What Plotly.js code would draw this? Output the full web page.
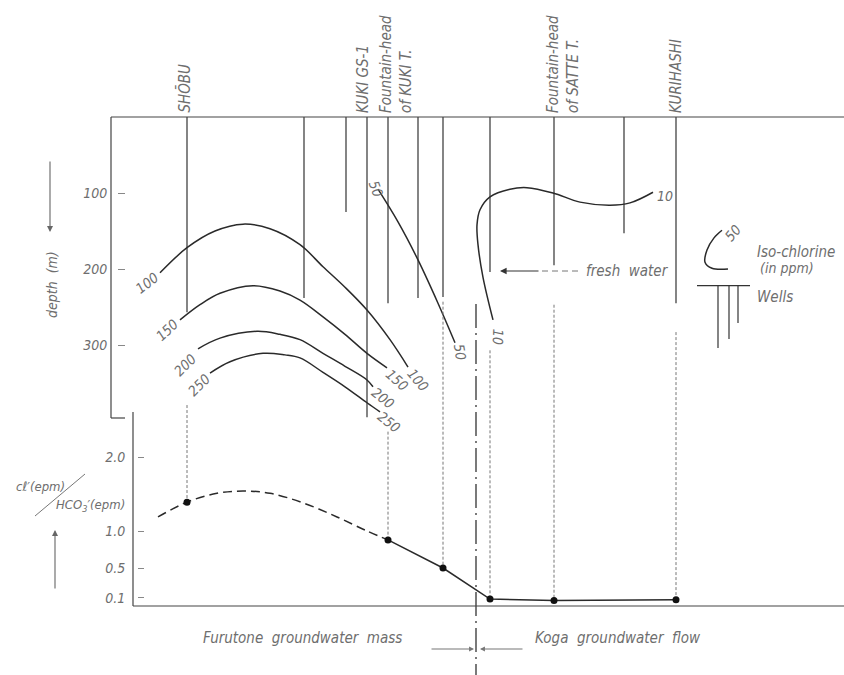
<!DOCTYPE html>
<html><head><meta charset="utf-8">
<script src="https://cdn.plot.ly/plotly-3.0.1.min.js"></script>
<style>html,body{margin:0;padding:0;background:#fff}</style>
</head><body><div id="chart" style="width:844px;height:675px"></div>
<script>
// ---------- DATA ----------
// horizontal position of wells along the section (arbitrary distance units)
const wellX      = [187, 304, 346, 367, 388, 418, 443, 490, 554, 624, 676];
// bottom depth of each well (m)
const wellBottom = [257, 238, 125, 395, 245, 238, 237, 204, 195, 153, 245];

// station labels
const stationNames = ["SHŌBU", "KUKI GS-1", "Fountain-head<br>of KUKI T.", "Fountain-head<br>of SATTE T.", "KURIHASHI"];
const stationX     = [184, 363, 396, 563, 676];

// iso-chlorine lines (ppm): x position, depth (m)
const iso100x = [160, 187, 215, 243, 270, 300, 323, 345, 367, 390, 408];
const iso100d = [205, 172, 150, 141, 147, 168, 197, 224, 254, 293, 329];
const iso150x = [180, 200, 220, 253, 280, 300, 323, 345, 367, 387];
const iso150d = [267, 247, 232, 222, 229, 241, 263, 286, 311, 330];
const iso200x = [198, 220, 257, 280, 300, 323, 345, 367, 373];
const iso200d = [305, 291, 282, 286, 293, 311, 328, 346, 355];
const iso250x = [210, 230, 263, 285, 300, 323, 345, 367, 380];
const iso250d = [337, 322, 311, 313, 317, 336, 355, 376, 388];
const iso50x  = [378, 398, 418, 438, 455];
const iso50d  = [95, 138, 188, 245, 297];
const iso10x  = [493, 483, 478, 477, 480, 490, 510, 527, 553, 580, 610, 630, 653];
const iso10d  = [267, 211, 168, 142, 122, 105, 95, 93, 100, 112, 116, 113, 99];

// Cl'/HCO3' ratio (epm/epm) at sampled wells
const ratioX = [187, 388, 443, 490, 554, 676];
const ratioV = [1.39, 0.88, 0.50, 0.08, 0.06, 0.07];
const ratioProjFromDepth = [379, 414, 243, 307, 247, 283];
// inferred (dashed) trend of the ratio
const trendX = [158, 187, 217, 243, 270, 303, 337, 367, 388];
const trendV = [1.19, 1.39, 1.51, 1.54, 1.51, 1.38, 1.19, 1.00, 0.88];

// boundary between Furutone groundwater mass and Koga groundwater flow
const boundaryX = 476;
const boundaryFromDepth = 246;

// legend glyphs
const legIsoX = [728, 712, 705, 707, 714, 722];
const legIsoD = [200, 199, 191, 175, 159, 149];
const legWellX = [718, 729, 738];
const legWellBottom = [304, 292, 271];
const legWellTopD = 222;
const legWellBarX = [697, 750];

const depthTicks = [100, 200, 300];
const ratioTicks = [0.1, 0.5, 1.0, 2.0];
const ratioTickText = ["0.1", "0.5", "1.0", "2.0"];

// ---------- GEOMETRY ----------
const W = 844, H = 675;
const topPix = 117;                    // pixel of depth 0
const depthMax = (H - topPix) / 0.76;  // depth at page bottom
const ratioMin = -(H - 605) / 74, ratioMax = (605 - topPix) / 74;
const py = p => 1 - p / H;             // page pixel -> paper
function depthToRatio(d) { return ratioMax - (d / depthMax) * (ratioMax - ratioMin); }

const INK = '#2a2a2a', TXT = '#6e6e6e';
const FONT = "DejaVu Sans Condensed, DejaVu Sans, sans-serif";

const traces = [];
// wells
(function(){
  const x = [], y = [];
  wellX.forEach((w, i) => { x.push(w, w, null); y.push(0, wellBottom[i], null); });
  traces.push({x, y, mode:'lines', line:{color:'#333', width:1.2}, hoverinfo:'skip'});
})();
// iso lines
[[iso100x, iso100d], [iso150x, iso150d], [iso200x, iso200d], [iso250x, iso250d], [iso50x, iso50d], [iso10x, iso10d]]
  .forEach(([x, y]) => traces.push({x, y, mode:'lines', line:{color:INK, width:1.5, shape:'spline', smoothing:1}, hoverinfo:'skip'}));
// legend glyphs
traces.push({x: legIsoX, y: legIsoD, mode:'lines', line:{color:INK, width:1.5, shape:'spline', smoothing:1}, hoverinfo:'skip'});
(function(){
  const x = [legWellBarX[0], legWellBarX[1], null], y = [legWellTopD, legWellTopD, null];
  legWellX.forEach((w, i) => { x.push(w, w, null); y.push(legWellTopD, legWellBottom[i], null); });
  traces.push({x, y, mode:'lines', line:{color:'#333', width:1.2}, hoverinfo:'skip'});
})();
// boundary dash-dot
traces.push({x:[boundaryX, boundaryX], y:[boundaryFromDepth, depthMax], mode:'lines',
  line:{color:'#333', width:1.3, dash:'24px,5px,2px,5px'}, hoverinfo:'skip'});
// projections to ratio points (dashed)
(function(){
  const x = [], y = [];
  ratioX.forEach((r, i) => { x.push(r, r, null); y.push(depthToRatio(ratioProjFromDepth[i]), ratioV[i], null); });
  traces.push({x, y, yaxis:'y2', mode:'lines', line:{color:'#777', width:1, dash:'3px,2px'}, hoverinfo:'skip'});
})();
// trend dashed
traces.push({x: trendX, y: trendV, yaxis:'y2', mode:'lines', line:{color:INK, width:1.5, dash:'9px,5px', shape:'spline', smoothing:1}, hoverinfo:'skip'});
// measured ratio
traces.push({x: ratioX.slice(1), y: ratioV.slice(1), yaxis:'y2', mode:'lines', line:{color:INK, width:1.5}, hoverinfo:'skip'});
traces.push({x: ratioX, y: ratioV, yaxis:'y2', mode:'markers', marker:{color:'#111', size:7}, hoverinfo:'skip'});

// ---------- ANNOTATIONS ----------
function T(text, x, yp, o) {
  o = o || {};
  return Object.assign({text, x, y: py(yp), xref:'x', yref:'paper', showarrow:false,
    font:{family:FONT, size:o.size || 14, color:TXT, style:'italic'}}, o.extra || {}, o.angle !== undefined ? {textangle:o.angle} : {});
}
const ann = [];
// curve labels
ann.push(T('100', 147, 283, {angle:-38}));
ann.push(T('150', 167, 330, {angle:-43}));
ann.push(T('200', 185, 365, {angle:-45}));
ann.push(T('250', 199, 385, {angle:-45}));
ann.push(T('100', 418, 380, {angle:50}));
ann.push(T('150', 397, 380, {angle:42}));
ann.push(T('200', 383, 398, {angle:38}));
ann.push(T('250', 389, 422, {angle:38}));
ann.push(T('50', 376, 176, {angle:70}));
ann.push(T('50', 460, 352, {angle:80}));
ann.push(T('10', 498, 337, {angle:92}));
ann.push(T('10', 665, 186, {}));
ann.push(T('50', 733, 219, {angle:-50}));
// legend text
ann.push(T('Iso-chlorine', 796, 252, {size:15}));
ann.push(T('(in ppm)', 787, 268, {size:14}));
ann.push(T('Wells', 775, 297, {size:15}));
ann.push(T('fresh  water', 627, 271, {size:15}));
// station labels
stationNames.forEach((s, i) => ann.push(T(s, stationX[i], 115, {angle:-90, size:15, extra:{yanchor:'bottom', align:'left'}})));
// axis titles
ann.push(T('depth  (m)', 52, 285, {angle:-90, size:14}));
ann.push(T("cℓ′(epm)", 40, 496, {size:13}));
ann.push(T("HCO<sub>3</sub>′(epm)", 90, 516, {size:13}));
// bottom captions
ann.push(T('Furutone  groundwater  mass', 302, 649, {size:15}));
ann.push(T('Koga  groundwater  flow', 618, 649, {size:15}));
// arrows
function A(x, yp, ax, ay, color, size) {
  return {x, y: py(yp), xref:'x', yref:'paper', text:'', showarrow:true, ax, ay,
    arrowhead:2, arrowsize:size || 1.1, arrowwidth:1.1, arrowcolor:color || '#666'};
}
ann.push(A(50, 232, 0, -72));
ann.push(A(55, 530, 0, 60));
ann.push(A(500, 271, 40, 0, '#333', 1.2));
ann.push(A(474, 649, -44, 0, '#777', 0.9));
ann.push(A(480, 649, 44, 0, '#777', 0.9));

// ---------- FRAME SHAPES ----------
function L(x0, y0, x1, y1, o) {
  return Object.assign({type:'line', xref:'x', yref:'paper', x0, x1, y0: py(y0), y1: py(y1),
    line:{color:'#444', width:1.2}}, o || {});
}
const shapes = [
  L(111, 117, 844, 117),
  L(111, 117, 111, 418),
  L(111, 418, 125, 418),
  L(133, 412, 133, 606),
  L(133, 606, 844, 606),
  L(35, 516, 85, 474, {line:{color:'#777', width:1}}),
  L(542, 271, 582, 271, {line:{color:'#777', width:1, dash:'6px,4px'}})
];

const layout = {
  width: W, height: H, margin:{l:0, r:0, t:0, b:0},
  paper_bgcolor:'#fff', plot_bgcolor:'rgba(0,0,0,0)', showlegend:false,
  xaxis:{range:[0, W], domain:[0, 1], visible:false},
  yaxis:{domain:[0, py(topPix)], range:[depthMax, 0], anchor:'free', position:125 / W,
    ticks:'outside', ticklen:7, tickwidth:1, tickcolor:'#888', tickvals:depthTicks,
    showline:false, showgrid:false, zeroline:false, ticklabelstandoff:8,
    tickfont:{family:FONT, size:14, color:TXT, style:'italic'}},
  yaxis2:{overlaying:'y', range:[ratioMin, ratioMax], anchor:'free', position:144 / W,
    ticks:'outside', ticklen:6, tickwidth:1, tickcolor:'#888', tickvals:ratioTicks, ticktext:ratioTickText,
    showline:false, showgrid:false, zeroline:false, ticklabelstandoff:10,
    tickfont:{family:FONT, size:14, color:TXT, style:'italic'}},
  annotations: ann, shapes: shapes
};
Plotly.newPlot('chart', traces, layout, {staticPlot:true, displayModeBar:false});
</script></body></html>
